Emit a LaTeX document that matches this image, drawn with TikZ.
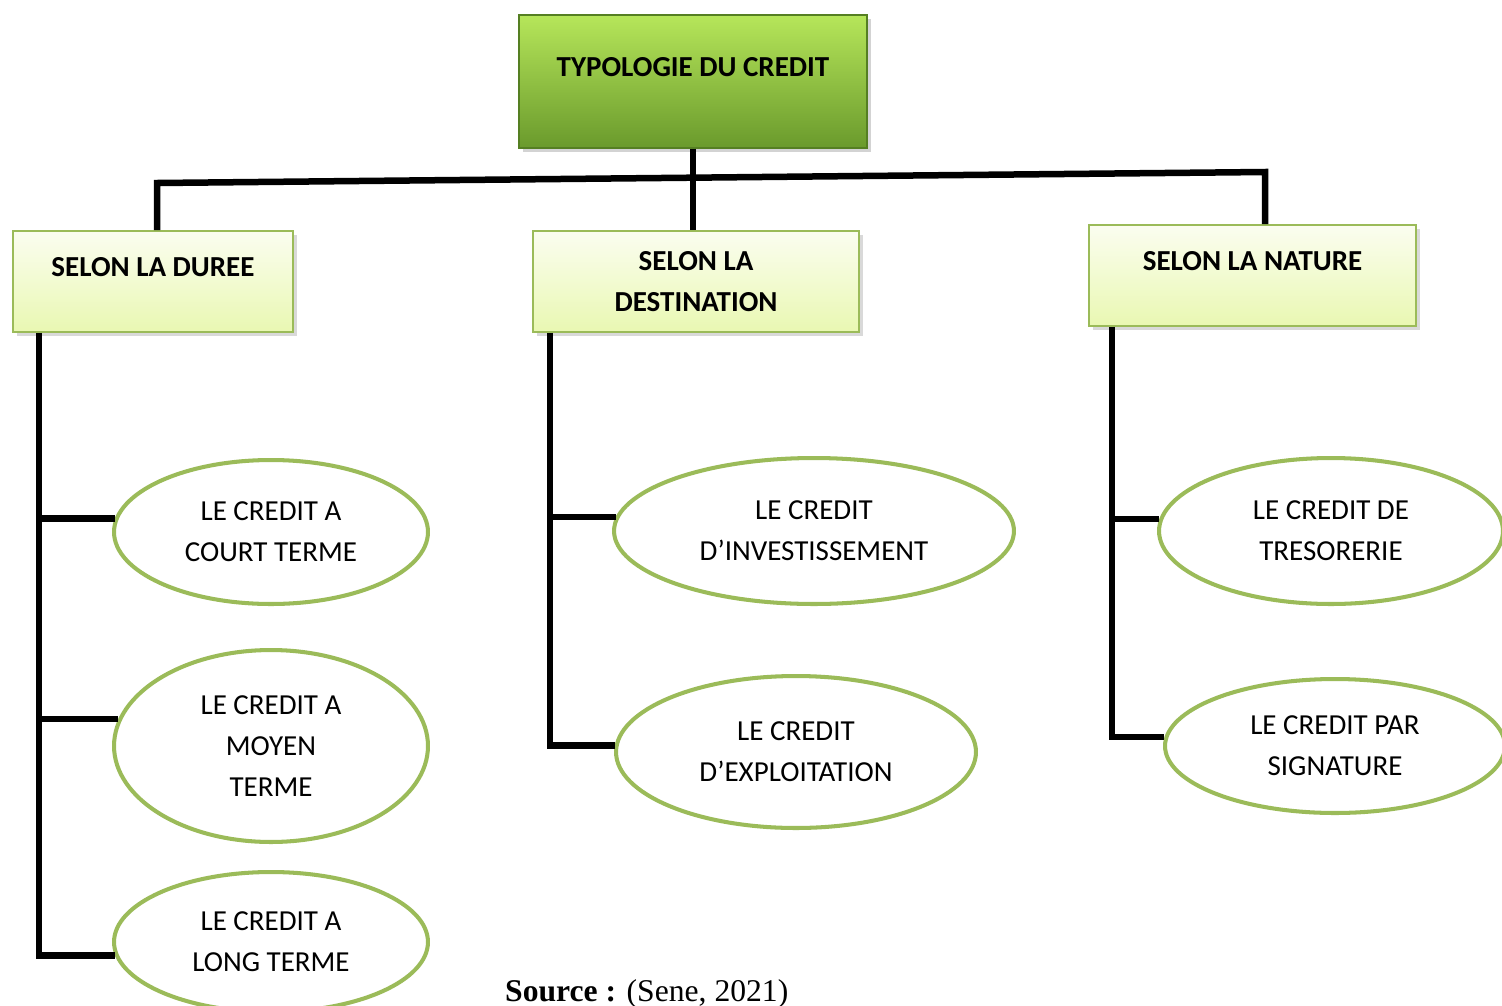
\documentclass[tikz,border=0pt]{standalone}
\usepackage{fontspec}
\setmainfont{Carlito}
\newfontfamily\timesfont{Liberation Serif}
\usetikzlibrary{shapes.geometric,shadows}

\definecolor{headTop}{HTML}{B6E65A}
\definecolor{headBottom}{HTML}{6A9A2C}
\definecolor{headBorder}{HTML}{557F22}
\definecolor{catTop}{HTML}{FBFDF0}
\definecolor{catBottom}{HTML}{E9F8B2}
\definecolor{oliveGreen}{HTML}{9BBB59}

\begin{document}
\begin{tikzpicture}[x=0.02cm, y=-0.02cm, line join=miter,
	font=\fontsize{16.5}{23.3}\selectfont,
	tree/.style={line width=3.7pt, draw=black},
	headbox/.style={rectangle, draw=headBorder, line width=0.8pt, top color=headTop, bottom color=headBottom, minimum width=6.96cm, minimum height=2.66cm, font=\fontsize{16.5}{23.3}\selectfont\bfseries, text height=0.36cm, text depth=0.58cm, drop shadow={opacity=0.35}},
	catbox/.style={rectangle, draw=oliveGreen, line width=1pt, top color=catTop, bottom color=catBottom, minimum height=2.02cm, align=center, font=\fontsize{16.5}{23.8}\selectfont\bfseries, drop shadow={opacity=0.3}},
	leaf/.style={ellipse, draw=oliveGreen, line width=2.3pt, fill=white, align=center, inner sep=0pt}]

	\clip (0,0) rectangle (1502,1005);

	% Titre
	\node[headbox] (typo) at (693,81.5) {TYPOLOGIE DU CREDIT};

	% Critères
	\node[catbox, minimum width=5.6cm, text height=0.36cm, text depth=0.56cm] (duree) at (153,281.5) {SELON LA DUREE};
	\node[catbox, minimum width=6.52cm] (destination) at (696,281.5) {SELON LA\\DESTINATION};
	\node[catbox, minimum width=6.54cm, text height=0.36cm, text depth=0.56cm] (nature) at (1252.5,275.5) {SELON LA NATURE};

	% Selon la durée
	\node[leaf, minimum width=6.28cm, minimum height=2.88cm] (court) at (271,532) {LE CREDIT A\\COURT TERME};
	\node[leaf, minimum width=6.28cm, minimum height=3.84cm] (moyen) at (271,746) {LE CREDIT A\\MOYEN\\TERME};
	\node[leaf, minimum width=6.28cm, minimum height=2.8cm] (long) at (271,942) {LE CREDIT A\\LONG TERME};

	% Selon la destination
	\node[leaf, minimum width=8cm, minimum height=2.92cm] (invest) at (814,531) {LE CREDIT\\D’INVESTISSEMENT};
	\node[leaf, minimum width=7.2cm, minimum height=3.04cm] (exploit) at (796,752) {LE CREDIT\\D’EXPLOITATION};

	% Selon la nature
	\node[leaf, minimum width=6.88cm, minimum height=2.92cm] (treso) at (1331,531) {LE CREDIT DE\\TRESORERIE};
	\node[leaf, minimum width=6.8cm, minimum height=2.68cm] (signature) at (1335,746) {LE CREDIT PAR\\SIGNATURE};

	% Liaisons du haut
	\coordinate (barL) at (157,183);
	\coordinate (barR) at (1265,172);
	\draw[tree] (barL |- duree.north) -- (barL) -- (barR) -- (barR |- nature.north);
	\draw[tree] (typo.south) -- (typo.south |- destination.north);

	% Branches
	\coordinate (s1) at ([xshift=0.54cm]duree.south west);
	\coordinate (s2) at ([xshift=0.36cm]destination.south west);
	\coordinate (s3) at ([xshift=0.48cm]nature.south west);
	\draw[tree] (s1) |- (long.185);
	\draw[tree] (s1 |- court.175) -- (court.175);
	\draw[tree] (s1 |- moyen.170) -- (moyen.170);
	\draw[tree] (s2) |- (exploit.178);
	\draw[tree] (s2 |- invest.176) -- (invest.176);
	\draw[tree] (s3) |- (signature.177);
	\draw[tree] (s3 |- treso.176) -- (treso.176);

	% Source
	\node[anchor=base west, font=\timesfont\fontsize{18}{20}\selectfont] (source) at (499,1001) {\textbf{Source :} (Sene, 2021)};

\end{tikzpicture}
\end{document}
